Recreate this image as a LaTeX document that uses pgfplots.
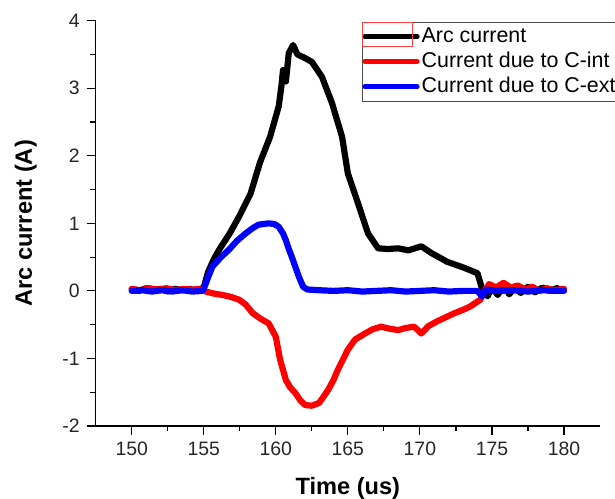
\documentclass[border=0pt]{standalone}
\usepackage{fontspec}
\setmainfont{Liberation Sans}
\usepackage{pgfplots}
\pgfplotsset{compat=1.18}
\usetikzlibrary{calc}

\begin{document}
\begin{tikzpicture}
\begin{axis}[
    name=ax,
    scale only axis,
    width=252.15pt, height=202.65pt,
    xmin=147.5, xmax=182.5,
    ymin=-2, ymax=4,
    axis x line*=bottom, axis y line*=left,
    axis line style={line width=0.65pt, -},
    xtick={150,155,...,180}, ytick={-2,-1,...,4},
    minor x tick num=1, minor y tick num=1,
    tick align=outside,
    major tick length=4.5pt, minor tick length=2.7pt,
    tick style={line width=0.6pt, black},
    /pgf/number format/assume math mode=true,
    tick label style={font=\fontsize{9.7}{11}\selectfont, text=black!85},
    xlabel={\textbf{Time (us)}},
    ylabel={\textbf{Arc current (A)}},
    label style={font=\fontsize{11.8}{13}\selectfont},
    xlabel style={yshift=-3.8pt},
    ylabel style={yshift=6pt},
    legend style={
      at={(rel axis cs:0.528,0.997)}, anchor=north west,
      draw=black!70, line width=0.5pt,
      inner xsep=0pt, inner ysep=2pt, row sep=2.2pt,
      font=\fontsize{10.7}{11.5}\selectfont,
      nodes={inner ysep=0.6pt, inner xsep=1pt},
      name=leg,
    },
    legend cell align=left,
    legend image code/.code={\draw[#1, line width=2.6pt] (-1pt,0pt) -- (25pt,0pt);},
    every axis plot/.append style={line width=3.1pt, line join=round, line cap=round},
  ]
  % Arc current
  \addplot[black] coordinates {
    (150,0.02) (150.5,0.00) (151,0.04) (151.5,0.01) (152,0.03) (152.5,-0.01) (153,0.03)
    (153.5,0.01) (154,0.03) (154.5,0.00) (155,0.05) (155.3,0.28) (155.7,0.47) (156.1,0.62)
    (156.8,0.85) (157.45,1.10) (158.25,1.44) (158.9,1.90) (159.6,2.28) (160.2,2.73)
    (160.4,3.05) (160.5,3.27) (160.7,3.10) (160.9,3.52) (161.2,3.64) (161.5,3.50)
    (162.0,3.45) (162.5,3.39) (163.2,3.17) (163.9,2.78) (164.6,2.28) (165.0,1.74)
    (165.7,1.30) (166.4,0.85) (167.1,0.63) (167.8,0.62) (168.5,0.63) (169.2,0.60)
    (170.1,0.66) (170.8,0.56) (171.9,0.43) (173.1,0.34) (174.0,0.26) (174.3,0.04)
    (174.7,-0.08) (175.0,0.05) (175.4,-0.06) (175.8,0.08) (176.2,-0.05) (176.6,0.05)
    (177.0,-0.03) (177.5,0.06) (178.0,-0.02) (178.5,0.05) (179.0,0.00) (179.5,0.04) (180,0.01)
  };
  \addlegendentry{Arc current}
  % Current due to C-int
  \addplot[red] coordinates {
    (150,0.03) (150.6,0.01) (151.2,0.04) (151.8,0.02) (152.4,0.04) (153,0.01) (153.6,0.03)
    (154.2,0.02) (154.8,0.03) (155.15,-0.01) (155.7,-0.04) (156.3,-0.06) (156.9,-0.09)
    (157.45,-0.13) (157.9,-0.20) (158.4,-0.33) (159.0,-0.42) (159.5,-0.48) (160.0,-0.68)
    (160.3,-1.02) (160.7,-1.32) (161.0,-1.43) (161.35,-1.51) (161.7,-1.62) (162.04,-1.69)
    (162.5,-1.70) (163.0,-1.66) (163.3,-1.57) (163.65,-1.46) (164.0,-1.32) (164.3,-1.17)
    (164.7,-1.00) (165.0,-0.87) (165.5,-0.72) (166.2,-0.63) (166.7,-0.57) (167.3,-0.53)
    (167.9,-0.56) (168.5,-0.58) (169.0,-0.55) (169.6,-0.53) (170.1,-0.63) (170.6,-0.52)
    (171.2,-0.45) (171.8,-0.39) (172.4,-0.33) (173.0,-0.28) (173.5,-0.23) (174.2,-0.13)
    (174.5,0.00) (174.8,0.10) (175.3,0.05) (175.8,0.12) (176.3,0.05) (176.8,0.08)
    (177.3,0.02) (177.8,0.06) (178.3,0.00) (178.8,0.04) (179.3,0.01) (180,0.03)
  };
  \addlegendentry{Current due to C-int}
  % Current due to C-ext
  \addplot[blue] coordinates {
    (150,0.00) (150.7,0.01) (151.4,-0.01) (152.1,0.01) (152.8,-0.01) (153.5,0.01)
    (154.2,-0.01) (154.9,0.00) (155.0,0.03) (155.3,0.20) (155.6,0.36) (156.2,0.50)
    (156.75,0.61) (157.3,0.74) (157.9,0.85) (158.4,0.93) (158.8,0.98) (159.5,1.00)
    (159.9,0.99) (160.2,0.95) (160.5,0.85) (160.7,0.75) (160.9,0.62) (161.1,0.51)
    (161.4,0.33) (161.6,0.21) (161.9,0.06) (162.2,0.02) (163,0.01) (164,0.00) (165,0.01)
    (166,-0.01) (167,0.00) (168,0.01) (169,-0.01) (170,0.00) (171,0.01) (172,-0.01)
    (173,0.00) (174,0.00) (174.3,-0.08) (174.6,0.02) (175.5,0.00) (176.5,0.01)
    (177.5,-0.01) (178.5,0.01) (179.5,0.00) (180,0.00)
  };
  \addlegendentry{Current due to C-ext}
\end{axis}
\draw[red!75, line width=0.5pt] ($(leg.north west)+(0.3pt,-0.3pt)$) rectangle ++(25pt,-12pt);
\pgfresetboundingbox
\path[use as bounding box] ($(ax.south west)+(-47.85pt,-36.5pt)$) rectangle ($(ax.north east)+(7.5pt,10.35pt)$);
\end{tikzpicture}
\end{document}
